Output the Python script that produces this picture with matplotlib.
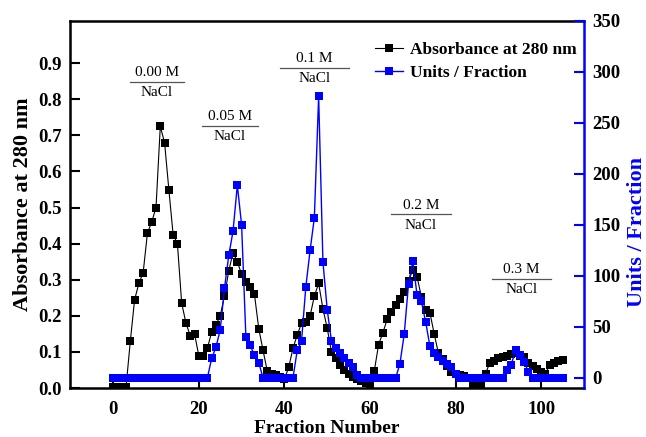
import numpy as np
import matplotlib
matplotlib.use("Agg")
import matplotlib.pyplot as plt

plt.rcParams['font.family'] = ['Liberation Serif', 'DejaVu Serif']

# absorbance at 280 nm, fractions 0..105
abs_frac = list(range(0, 106))
absorbance = [
    0.004, 0.004, 0.004, 0.004, 0.13, 0.245, 0.29, 0.32, 0.43, 0.46,   # 0-9
    0.50, 0.725, 0.68, 0.55, 0.425, 0.40, 0.235, 0.18, 0.145, 0.15,     # 10-19
    0.09, 0.088, 0.11, 0.155, 0.175, 0.20, 0.255, 0.325, 0.375, 0.35,   # 20-29
    0.315, 0.295, 0.28, 0.26, 0.165, 0.105, 0.047, 0.04, 0.035, 0.03,   # 30-39
    0.025, 0.057, 0.11, 0.147, 0.18, 0.182, 0.20, 0.255, 0.29, 0.22,    # 40-49
    0.166, 0.10, 0.082, 0.064, 0.05, 0.038, 0.03, 0.025, 0.02, 0.015,   # 50-59
    0.008, 0.047, 0.12, 0.153, 0.19, 0.21, 0.23, 0.248, 0.267, 0.297,   # 60-69
    0.327, 0.308, 0.253, 0.216, 0.209, 0.15, 0.096, 0.08, 0.06, 0.045,  # 70-79
    0.04, 0.037, 0.033, 0.028, 0.012, 0.008, 0.008, 0.04, 0.07, 0.075,  # 80-89
    0.082, 0.087, 0.09, 0.094, 0.097, 0.09, 0.085, 0.07, 0.062, 0.052,  # 90-99
    0.045, 0.04, 0.065, 0.07, 0.075, 0.078,                              # 100-105
]

# enzyme units per fraction, fractions 0..105
units_frac = list(range(0, 106))
units = [0] * 23 + [
    19, 30, 47, 88, 120, 144, 189, 150, 40, 32, 22, 15,   # 23-34
] + [0] * 8 + [
    27, 36, 89, 125, 157, 276, 114, 67, 36, 29, 24, 19, 15, 11, 3,  # 43-57
] + [0] * 9 + [
    14, 43, 92, 115, 81, 75, 55, 31, 24, 20, 17, 14, 11, 4,  # 67-80
] + [0] * 11 + [
    8, 13, 27, 22, 16, 6,  # 92-97
] + [0] * 8

# salt steps: label, line start, line end, line height (absorbance scale)
salt_labels = ['0.00 M', '0.05 M', '0.1 M', '0.2 M', '0.3 M']
salt_x0 = [4.0, 20.8, 38.9, 64.9, 88.6]
salt_x1 = [16.5, 33.8, 55.2, 78.9, 102.2]
salt_y = [0.849, 0.726, 0.888, 0.481, 0.302]

fig = plt.figure(figsize=(6.46, 4.37), dpi=100)
ax = fig.add_axes([0.109, 0.112, 0.795, 0.840])
ax2 = ax.twinx()

l1, = ax.plot(abs_frac, absorbance, color='black', lw=0.8, marker='s',
              markersize=6, markeredgewidth=0, label='Absorbance at 280 nm')
l2, = ax2.plot(units_frac, units, color='#0000ff', lw=1.0, marker='s',
               markersize=5.5, markeredgewidth=0, label='Units / Fraction')

ax.set_xlim(-10, 110)
ax.set_ylim(0, 1.017)
ax2.set_ylim(-10, 350)
ax.set_xticks([0, 20, 40, 60, 80, 100])
ax.set_yticks(np.arange(0, 0.95, 0.1))
ax.set_yticklabels(['%.1f' % v for v in np.arange(0, 0.95, 0.1)])
ax2.set_yticks(range(0, 351, 50))

for a in (ax, ax2):
    for lab in a.get_xticklabels() + a.get_yticklabels():
        lab.set_fontweight('bold')
        lab.set_fontsize(13.5)

ax.tick_params(direction='in', length=7, width=1.5, pad=6)
ax.tick_params(axis='x', pad=9)
ax.tick_params(top=False, right=False)
ax2.tick_params(direction='in', length=7, width=1.5, pad=6, colors='#0000ff',
                labelcolor='black')

for s in ['left', 'bottom', 'top']:
    ax.spines[s].set_linewidth(1.8)
ax.spines['right'].set_visible(False)
for s in ['left', 'bottom', 'top']:
    ax2.spines[s].set_visible(False)
ax2.spines['right'].set_linewidth(1.8)
ax2.spines['right'].set_color('#0000ff')

ax.set_xlabel('Fraction Number', fontsize=14, fontweight='bold', labelpad=2)
ax.set_ylabel('Absorbance at 280 nm', fontsize=16, fontweight='bold')
ax.yaxis.set_label_coords(-0.073, 0.5)
ax2.set_ylabel('Units / Fraction', fontsize=16, fontweight='bold', color='#0000ff')
ax2.yaxis.set_label_coords(1.084, 0.426)

for lab, x0, x1, y in zip(salt_labels, salt_x0, salt_x1, salt_y):
    ax.plot([x0, x1], [y, y], color='#555555', lw=0.9)
    xc = (x0 + x1) / 2
    ax.text(xc, y + 0.008, lab, ha='center', va='bottom', fontsize=11)
    ax.text(xc, y - 0.012, 'NaCl', ha='center', va='top', fontsize=11)

leg = ax2.legend(handles=[l1, l2], loc='upper left', bbox_to_anchor=(0.569, 0.975),
                 frameon=False, handlelength=1.6, handletextpad=0.4,
                 labelspacing=0.35, borderaxespad=0.3,
                 prop={'weight': 'bold', 'size': 12.5})

fig.savefig('out.png', dpi=100)
